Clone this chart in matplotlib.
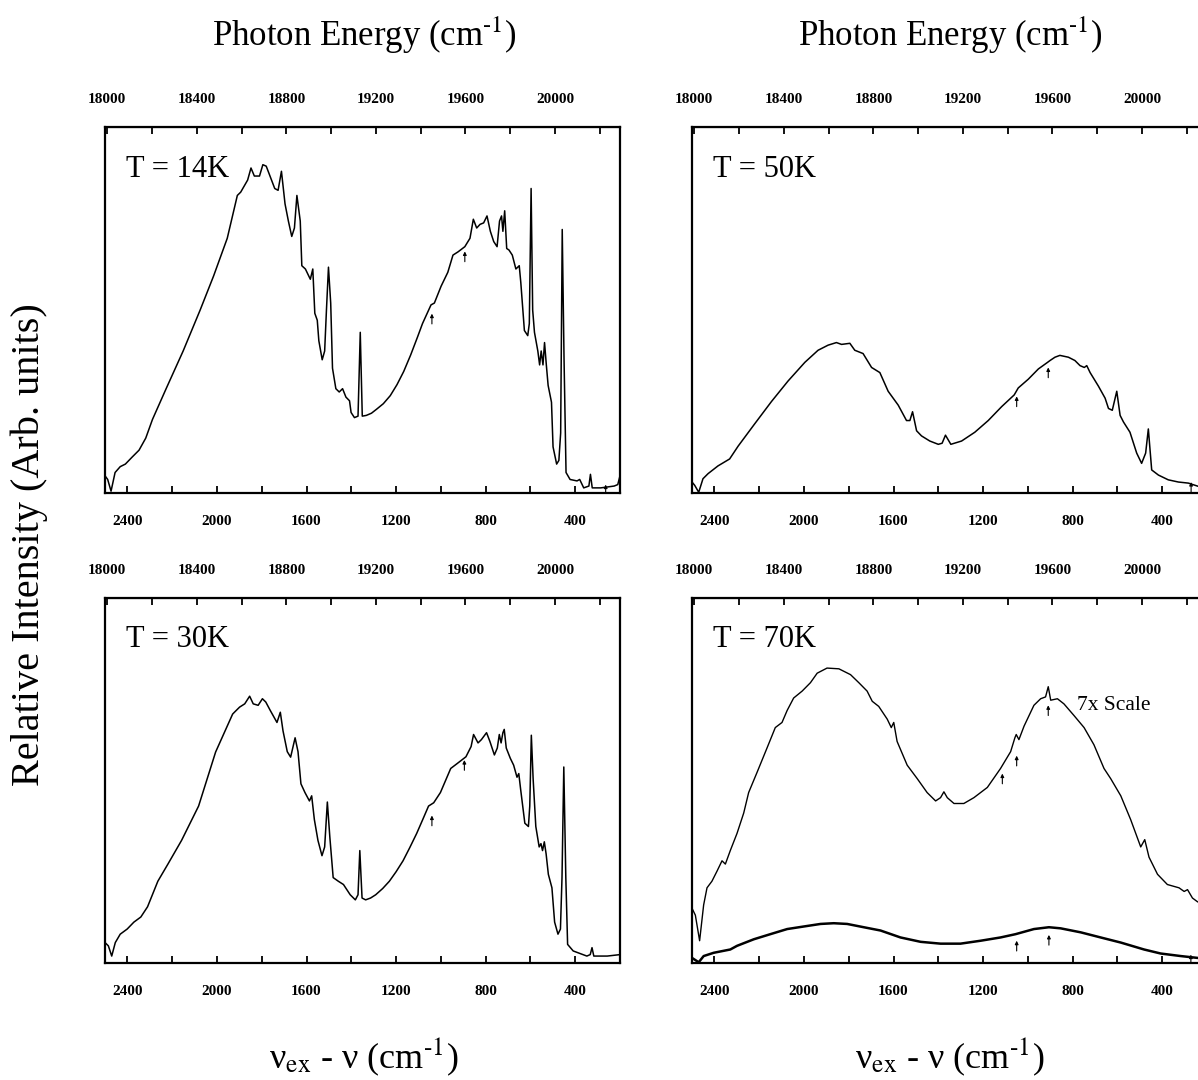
import numpy as np
import matplotlib
matplotlib.use('Agg')
import matplotlib.pyplot as plt

plt.rcParams['font.family'] = ['Liberation Serif', 'DejaVu Serif']
plt.rcParams['mathtext.fontset'] = 'stix'

# excitation energy: photon energy = NU_EX - shift
NU_EX = 20490

# spectra: (shift cm-1, relative intensity)
t14 = [(2500, 4.7), (2488, 3.7), (2473, 0.5), (2455, 5.6), (2432, 7.2), (2409, 7.9), (2379, 9.8),
       (2348, 11.7), (2318, 15.0), (2288, 20.1), (2227, 28.5), (2151, 38.8), (2075, 50.0), (2015, 59.3),
       (1954, 69.6), (1909, 81.3), (1894, 82.2), (1863, 85.5), (1848, 88.8), (1833, 86.6), (1810, 86.6),
       (1795, 89.7), (1780, 89.3), (1765, 86.9), (1742, 83.2), (1727, 82.7), (1712, 87.9), (1696, 79.0),
       (1681, 74.3), (1666, 70.1), (1654, 72.4), (1643, 81.3), (1628, 74.3), (1621, 62.1), (1605, 61.2),
       (1583, 58.4), (1572, 61.2), (1563, 49.1), (1552, 47.2), (1545, 41.6), (1530, 36.4), (1519, 38.8),
       (1511, 50.0), (1502, 61.7), (1492, 51.9), (1484, 34.1), (1469, 28.5), (1454, 27.6), (1439, 28.5),
       (1424, 26.2), (1408, 25.2), (1401, 22.0), (1386, 20.6), (1370, 21.0), (1360, 43.9), (1351, 21.0),
       (1333, 21.2), (1310, 21.8), (1287, 22.9), (1257, 24.4), (1226, 26.6), (1196, 29.6), (1166, 33.2),
       (1135, 37.7), (1105, 42.5), (1082, 46.3), (1044, 51.4),
       (1029, 51.9), (999, 56.5), (969, 60.3), (946, 65.0), (923, 65.9), (893, 67.3), (870, 69.6),
       (855, 74.8), (840, 72.4), (825, 73.4), (809, 73.8), (794, 75.7), (779, 71.5), (764, 68.7),
       (749, 67.3), (738, 74.3), (729, 75.7), (723, 71.5), (715, 77.1), (706, 66.8), (696, 66.4),
       (681, 65.0), (665, 61.2), (650, 62.1), (643, 57.5), (627, 44.4), (612, 43.0), (605, 46.3),
       (597, 83.2), (590, 50.0), (582, 43.9), (567, 38.8), (559, 35.0), (552, 38.8), (544, 35.0),
       (537, 41.1), (529, 35.0), (521, 29.4), (506, 24.8), (499, 12.6), (483, 7.9), (473, 8.9),
       (465, 16.4), (458, 72.0), (450, 36.9), (441, 5.6), (423, 3.7), (392, 3.3), (380, 3.7),
       (362, 1.4), (339, 1.9), (332, 5.1), (324, 1.4), (286, 1.4), (226, 1.9), (210, 2.3), (200, 4.7)]

t30 = [(2500, 5.6), (2485, 4.7), (2470, 1.9), (2454, 5.6), (2432, 7.9), (2401, 9.3), (2371, 11.2),
       (2340, 12.6), (2310, 15.4), (2264, 22.4), (2219, 27.1), (2158, 33.6), (2082, 43.0), (2006, 57.8),
       (1930, 68.2), (1922, 68.7), (1899, 70.1), (1876, 71.0), (1854, 73.1), (1838, 71.0), (1816, 70.6),
       (1797, 72.4), (1782, 71.5), (1762, 69.2), (1732, 65.9), (1717, 68.7), (1705, 63.6), (1686, 57.9),
       (1671, 56.4), (1651, 61.7), (1638, 57.9), (1625, 49.1), (1607, 46.7), (1587, 44.4), (1577, 45.8),
       (1565, 39.3), (1549, 33.6), (1531, 29.4), (1519, 31.8), (1507, 44.1), (1496, 34.6), (1481, 23.4),
       (1458, 22.4), (1435, 21.5), (1420, 20.1), (1405, 18.7), (1382, 17.3), (1370, 18.7), (1362, 30.8),
       (1352, 17.8), (1336, 17.3), (1314, 17.8), (1291, 18.7), (1260, 20.4), (1230, 22.4), (1200, 25.0),
       (1169, 28.0), (1139, 31.6), (1108, 35.5), (1081, 39.3), (1055, 43.0),
       (1032, 43.9), (1002, 46.7), (956, 53.3), (926, 54.7), (888, 56.5), (865, 59.3), (854, 62.6),
       (834, 60.3), (819, 61.2), (796, 63.1), (781, 60.7), (761, 57.0), (748, 58.9), (739, 62.6),
       (731, 60.3), (723, 63.1), (717, 64.0), (708, 58.9), (690, 56.1), (675, 54.2), (660, 50.9),
       (652, 51.9), (644, 47.7), (625, 38.3), (609, 37.4), (603, 43.0), (596, 62.4), (588, 50.5),
       (576, 37.4), (561, 31.8), (553, 32.7), (546, 30.8), (538, 33.2), (530, 29.9), (520, 24.3),
       (504, 20.6), (492, 11.2), (477, 7.9), (466, 9.3), (459, 23.4), (451, 53.7), (442, 23.4),
       (434, 5.1), (409, 3.3), (348, 1.9), (333, 2.3), (325, 4.2), (317, 1.9), (257, 1.9), (200, 2.3)]

t50 = [(2500, 3.0), (2488, 2.1), (2470, 0.2), (2451, 3.9), (2428, 5.3), (2384, 7.4), (2332, 9.3),
       (2294, 12.8), (2220, 18.9), (2145, 25.0), (2071, 30.6), (1996, 35.7), (1937, 39.0), (1892, 40.4),
       (1855, 41.1), (1832, 40.6), (1795, 40.9), (1773, 39.0), (1736, 38.1), (1698, 34.3), (1661, 32.9),
       (1624, 27.8), (1579, 24.0), (1542, 19.8), (1527, 19.8), (1515, 22.2), (1497, 17.0), (1475, 15.6),
       (1438, 14.2), (1400, 13.3), (1383, 13.6), (1368, 15.8), (1344, 13.3), (1296, 14.2), (1237, 16.6),
       (1177, 19.8), (1117, 23.6), (1061, 26.8), (1043, 28.7), (998, 31.1), (953, 33.9), (912, 35.7),
       (901, 36.2), (879, 37.1), (857, 37.6), (819, 37.1), (790, 36.2), (767, 34.8), (748, 34.3),
       (737, 34.8), (722, 32.9), (685, 29.2), (655, 25.9), (640, 23.1), (623, 22.6), (603, 27.8),
       (588, 21.2), (573, 19.4), (544, 16.6), (514, 10.9), (492, 8.1), (474, 10.9), (462, 17.5),
       (447, 6.3), (417, 4.9), (373, 3.6), (328, 3.0), (283, 2.7), (238, 1.8), (200, 1.6)]

# 70K: upper trace is the 7x scaled copy of the lower one
t70_x7 = [(2500, 15.0), (2485, 13.1), (2466, 6.1), (2448, 15.9), (2433, 20.6), (2411, 22.4), (2388, 25.2),
          (2366, 28.0), (2351, 27.1), (2329, 30.8), (2299, 35.5), (2269, 41.1), (2247, 46.7), (2209, 52.3),
          (2165, 58.9), (2128, 64.5), (2098, 65.9), (2075, 69.2), (2046, 72.6), (2008, 74.5), (1971, 76.8),
          (1941, 79.4), (1897, 80.8), (1844, 80.6), (1792, 79.0), (1755, 76.8), (1718, 74.5), (1695, 71.7),
          (1666, 70.3), (1628, 66.8), (1610, 64.5), (1599, 65.9), (1584, 60.7), (1539, 54.2), (1494, 50.5),
          (1450, 46.7), (1412, 44.4), (1390, 45.3), (1375, 46.9), (1360, 45.3), (1330, 43.7), (1286, 43.7),
          (1241, 45.3), (1181, 48.1), (1122, 53.3), (1077, 57.9), (1058, 61.7), (1052, 62.6), (1040, 61.2),
          (1017, 64.9), (973, 70.6), (943, 72.4), (921, 72.9), (909, 75.7), (898, 72.0), (868, 72.4),
          (839, 71.0), (794, 67.8), (749, 64.5), (705, 59.8), (660, 53.3), (630, 50.5), (585, 45.8),
          (541, 39.3), (496, 31.8), (478, 33.8), (459, 29.0), (421, 24.3), (377, 21.5), (325, 20.6),
          (302, 19.6), (287, 20.1), (265, 17.8), (243, 16.8), (200, 15.5)]

t70 = [(2500, 1.4), (2470, 0.2), (2448, 1.9), (2403, 2.8), (2329, 3.7), (2299, 4.7), (2224, 6.5),
       (2150, 7.9), (2075, 9.3), (2001, 10.0), (1926, 10.7), (1867, 10.9), (1807, 10.7), (1733, 9.8),
       (1658, 8.9), (1569, 7.0), (1479, 5.8), (1390, 5.3), (1301, 5.3), (1211, 6.1), (1122, 7.0),
       (1055, 7.9), (973, 9.3), (906, 9.8), (854, 9.5), (764, 8.4), (675, 7.0), (585, 5.6), (481, 3.7),
       (407, 2.6), (317, 1.9), (243, 1.4), (200, 1.2)]

# small arrows under the curves: (shift, tip height)
arrows_14 = [(1040, 49.0), (893, 66.0), (264, 2.3)]
arrows_30 = [(1040, 40.4), (895, 55.6)]
arrows_50 = [(1050, 26.4), (909, 34.3), (271, 3.0)]
arrows_70 = [(1114, 51.9), (1050, 56.8), (909, 70.6), (1050, 6.1), (906, 7.7), (272, 2.3)]

bottom_ticks = list(range(2400, 199, -200))
bottom_labels = [str(t) if t % 400 == 0 else '' for t in bottom_ticks]
top_ticks = list(range(18000, 20301, 200))
top_labels = [str(t) if t % 400 == 0 else '' for t in top_ticks]

W, H = 1198, 1080
fig = plt.figure(figsize=(W / 100, H / 100), dpi=100)

# panel boxes in pixels: left, top, width, height
boxes = {
    '14': (105, 127, 515, 366),
    '30': (105, 598, 515, 365),
    '50': (692, 127, 515, 366),
    '70': (692, 598, 515, 365),
}


def make_panel(key, label):
    l, t, w, h = boxes[key]
    ax = fig.add_axes([l / W, 1 - (t + h) / H, w / W, h / H])
    ax.set_xlim(2500, 200)
    ax.set_ylim(0, 100)
    ax.set_yticks([])
    for s in ax.spines.values():
        s.set_linewidth(1.6)
    ax.set_xticks(bottom_ticks, labels=bottom_labels)
    ax.tick_params(axis='x', direction='in', length=5, width=1.3, pad=16,
                   labelsize=11)
    for lab in ax.get_xticklabels():
        lab.set_fontweight('bold')
    sec = ax.secondary_xaxis('top', functions=(lambda s: NU_EX - s, lambda e: NU_EX - e))
    sec.set_xticks(top_ticks, labels=top_labels)
    sec.tick_params(direction='in', length=5, width=1.3, pad=15, labelsize=11)
    for lab in sec.get_xticklabels():
        lab.set_fontweight('bold')
    ax.text(0.04, 0.885, label, transform=ax.transAxes, fontsize=22, va='center', ha='left')
    return ax


def draw(ax, data, lw=1.1):
    x, y = np.array(data).T
    ax.plot(x, y, color='black', lw=lw)


def draw_arrows(ax, arrows):
    for x, tip in arrows:
        tail = max(tip - 2.8, 0.3)
        ax.annotate('', xy=(x, tip), xytext=(x, tail),
                    arrowprops=dict(arrowstyle='-|>', color='black', lw=0.8,
                                    mutation_scale=5, shrinkA=0, shrinkB=0))


ax14 = make_panel('14', 'T = 14K')
draw(ax14, t14)
draw_arrows(ax14, arrows_14)

ax30 = make_panel('30', 'T = 30K')
draw(ax30, t30)
draw_arrows(ax30, arrows_30)

ax50 = make_panel('50', 'T = 50K')
draw(ax50, t50)
draw_arrows(ax50, arrows_50)

ax70 = make_panel('70', 'T = 70K')
draw(ax70, t70_x7, lw=1.0)
draw(ax70, t70, lw=1.8)
draw_arrows(ax70, arrows_70)
ax70.text(780, 70.6, '7x Scale', fontsize=15.5, va='center', ha='left')

# axis titles
top_title = 'Photon Energy (cm$^{\\text{-1}}$)'
bottom_title = 'ν$_{\\mathrm{ex}}$ - ν (cm$^{\\text{-1}}$)'
for cx in (364, 950):
    fig.text(cx / W, 1 - 35 / H, top_title, fontsize=25, ha='center', va='center')
    fig.text(cx / W, 1 - 1057 / H, bottom_title, fontsize=26, ha='center', va='center')
fig.text(29 / W, 1 - 545 / H, 'Relative Intensity (Arb. units)', fontsize=29,
         rotation=90, ha='center', va='center')

fig.savefig('out.png', dpi=100)
